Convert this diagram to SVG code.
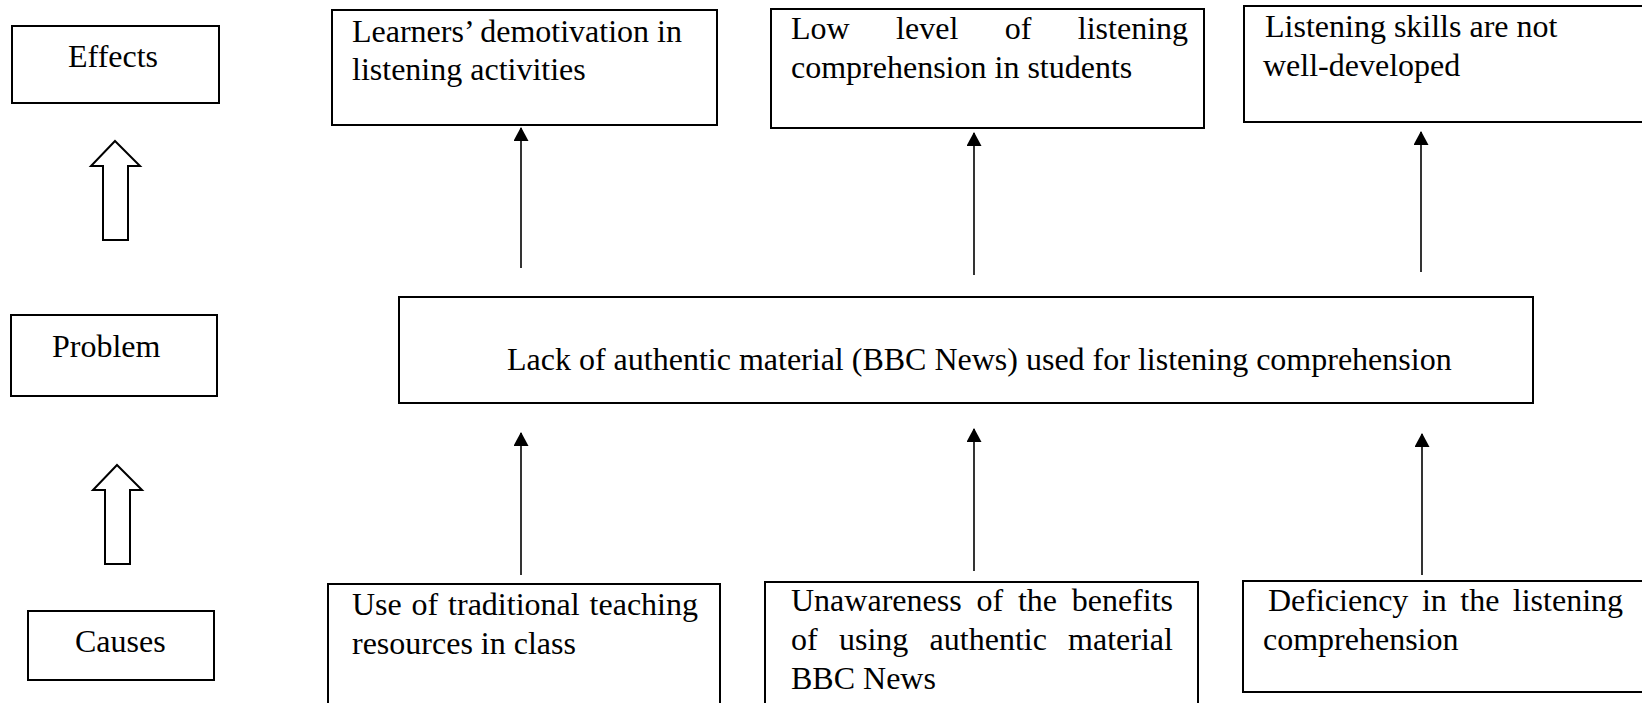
<svg xmlns="http://www.w3.org/2000/svg" width="1642" height="703" viewBox="0 0 1642 703">
<style>
text{font-family:"Liberation Serif","Times New Roman",serif;font-size:32px;fill:#000}
.box{fill:#fff;stroke:#000;stroke-width:2}
.harrow{fill:#fff;stroke:#000;stroke-width:2;stroke-linejoin:miter}
.conn{stroke:#000;stroke-width:1.6;fill:none}
</style>
<defs>
<marker id="ah" markerUnits="userSpaceOnUse" viewBox="0 0 14 15" refX="13" refY="7.5" markerWidth="14" markerHeight="15" orient="auto">
<path d="M0,0 L14,7.5 L0,15 z" fill="#000"/>
</marker>
</defs>
<rect width="1642" height="703" fill="#fff"/>

<g id="label-effects">
<rect class="box" x="12" y="26" width="207" height="77"/>
<text x="68" y="67">Effects</text>
</g>
<g id="label-problem">
<rect class="box" x="11" y="315" width="206" height="81"/>
<text x="52" y="357">Problem</text>
</g>
<g id="label-causes">
<rect class="box" x="28" y="611" width="186" height="69"/>
<text x="75" y="652">Causes</text>
</g>

<g id="hollow-arrow-top">
<polygon class="harrow" points="115,141 140,166 128,166 128,240 103,240 103,166 91,166"/>
</g>
<g id="hollow-arrow-bottom">
<polygon class="harrow" points="117,465 142,490 130,490 130,564 105,564 105,490 93,490"/>
</g>

<g id="effect1">
<rect class="box" x="332" y="10" width="385" height="115"/>
<text x="352" y="42">Learners’ demotivation in</text>
<text x="352" y="80">listening activities</text>
</g>
<g id="effect2">
<rect class="box" x="771" y="9" width="433" height="119"/>
<text y="39"><tspan x="791">Low</tspan><tspan x="896.1">level</tspan><tspan x="1004.7">of</tspan><tspan x="1077.8">listening</tspan></text>
<text x="791" y="78">comprehension in students</text>
</g>
<g id="effect3">
<rect class="box" x="1244" y="6" width="410" height="116"/>
<text x="1265" y="37">Listening skills are not</text>
<text x="1263" y="76">well-developed</text>
</g>

<g id="problem">
<rect class="box" x="399" y="297" width="1134" height="106"/>
<text x="507" y="370">Lack of authentic material (BBC News) used for listening comprehension</text>
</g>

<g id="cause1">
<rect class="box" x="328" y="584" width="392" height="130"/>
<text y="615"><tspan x="352">Use</tspan><tspan x="411.6">of</tspan><tspan x="448.1">traditional</tspan><tspan x="589.6">teaching</tspan></text>
<text x="352" y="654">resources in class</text>
</g>
<g id="cause2">
<rect class="box" x="765" y="582" width="433" height="130"/>
<text y="611"><tspan x="791">Unawareness</tspan><tspan x="976.4">of</tspan><tspan x="1017.9">the</tspan><tspan x="1071.7">benefits</tspan></text>
<text y="650"><tspan x="791">of</tspan><tspan x="839">using</tspan><tspan x="929.6">authentic</tspan><tspan x="1068.1">material</tspan></text>
<text x="791" y="689">BBC News</text>
</g>
<g id="cause3">
<rect class="box" x="1243" y="581" width="410" height="111"/>
<text y="611"><tspan x="1268">Deficiency</tspan><tspan x="1421.9">in</tspan><tspan x="1460.3">the</tspan><tspan x="1512.8">listening</tspan></text>
<text x="1263" y="650">comprehension</text>
</g>

<g id="connectors">
<line class="conn" x1="521" y1="268" x2="521" y2="128" marker-end="url(#ah)"/>
<line class="conn" x1="974" y1="275" x2="974" y2="133" marker-end="url(#ah)"/>
<line class="conn" x1="1421" y1="272" x2="1421" y2="132" marker-end="url(#ah)"/>
<line class="conn" x1="521" y1="575" x2="521" y2="433" marker-end="url(#ah)"/>
<line class="conn" x1="974" y1="571" x2="974" y2="429" marker-end="url(#ah)"/>
<line class="conn" x1="1422" y1="575" x2="1422" y2="434" marker-end="url(#ah)"/>
</g>
</svg>
